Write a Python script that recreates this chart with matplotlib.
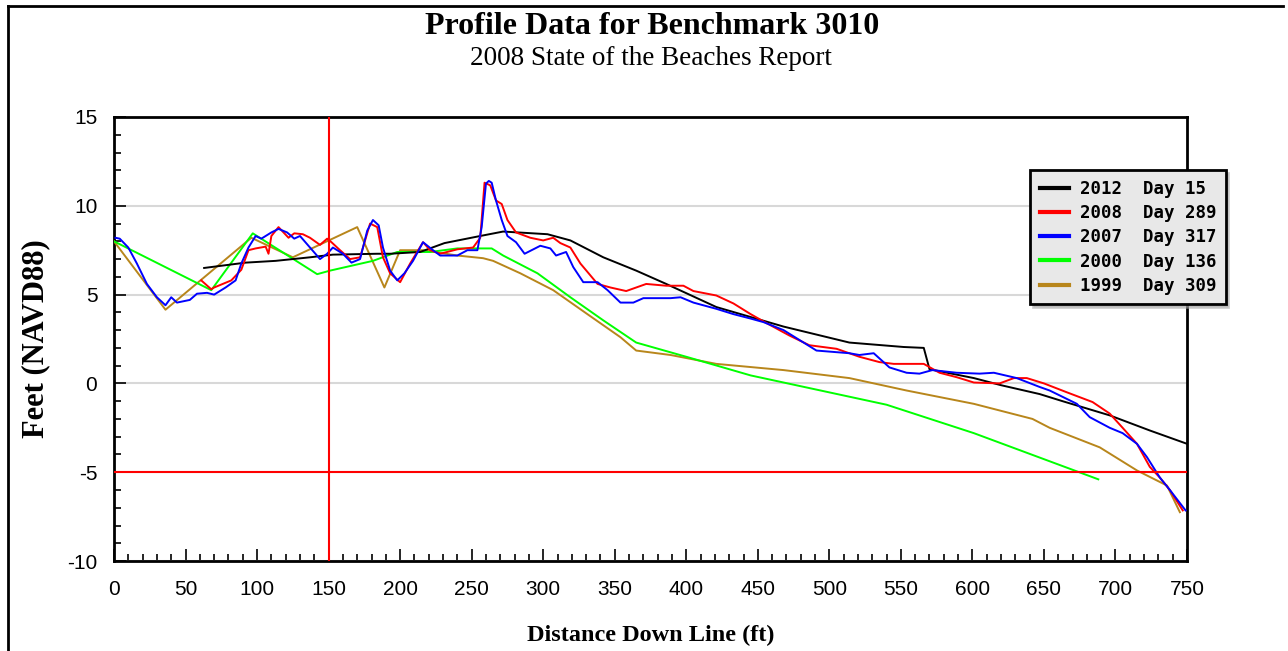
import matplotlib
matplotlib.use("Agg")
import matplotlib.pyplot as plt
from matplotlib.ticker import MultipleLocator
from matplotlib.lines import Line2D

plt.rcParams['axes.unicode_minus'] = False

# profile data (distance ft, elevation ft NAVD88)
x_2012 = [63, 92, 113, 137, 153, 184, 193, 214, 231, 256, 272, 303, 319, 342, 365, 386, 421, 468,
          514, 552, 566, 570, 601, 620, 647, 663, 696, 724, 750]
y_2012 = [6.5, 6.8, 6.9, 7.1, 7.25, 7.3, 7.3, 7.4, 7.9, 8.3, 8.55, 8.4, 8.05, 7.1, 6.35, 5.6, 4.3, 3.2,
          2.3, 2.05, 2.0, 0.8, 0.3, -0.1, -0.6, -1.0, -1.8, -2.65, -3.4]

x_2008 = [61, 68, 70, 82, 89, 94, 99, 106, 108, 110, 115, 122, 126, 132, 137, 144, 149, 152, 158, 165,
          172, 179, 184, 188, 193, 200, 207, 216, 221, 228, 240, 251, 256, 259, 263, 267, 271, 275, 281, 291,
          300, 307, 312, 319, 326, 338, 347, 358, 372, 386, 398, 405, 421, 433, 445, 456, 472, 486, 505, 521,
          535, 545, 566, 577, 589, 601, 619, 629, 638, 650, 666, 684, 696, 705, 715, 724, 731, 738, 747]
y_2008 = [5.8, 5.3, 5.4, 5.8, 6.4, 7.5, 7.6, 7.7, 7.3, 8.3, 8.8, 8.2, 8.45, 8.4, 8.2, 7.8, 8.15, 7.95, 7.5, 7.0,
          7.1, 9.0, 8.8, 7.1, 6.2, 5.7, 6.75, 7.95, 7.5, 7.3, 7.55, 7.65, 8.2, 11.3, 11.15, 10.3, 10.1, 9.2, 8.5, 8.2,
          8.05, 8.2, 7.9, 7.65, 6.75, 5.6, 5.4, 5.2, 5.6, 5.5, 5.5, 5.2, 4.95, 4.5, 3.9, 3.4, 2.7, 2.15, 1.95, 1.5,
          1.2, 1.1, 1.1, 0.6, 0.35, 0.05, 0.0, 0.3, 0.3, 0.0, -0.5, -1.05, -1.7, -2.5, -3.4, -4.7, -5.3, -6.0, -7.15]

x_2007 = [1, 4, 10, 16, 23, 30, 36, 40, 44, 53, 58, 65, 70, 78, 85, 89, 94, 99, 103, 110,
          115, 121, 126, 130, 137, 144, 149, 153, 160, 166, 172, 177, 181, 185, 188, 193, 198, 203, 209, 216,
          223, 228, 240, 247, 254, 257, 260, 262, 264, 267, 271, 275, 281, 287, 298, 305, 309, 316, 321, 328,
          338, 345, 354, 363, 370, 389, 396, 405, 421, 433, 445, 454, 468, 482, 491, 514, 521, 531, 542, 554,
          563, 572, 589, 605, 615, 631, 647, 654, 673, 682, 696, 705, 715, 722, 731, 738, 749]
y_2007 = [8.2, 8.15, 7.65, 6.75, 5.6, 4.85, 4.4, 4.85, 4.55, 4.7, 5.05, 5.1, 5.0, 5.4, 5.8, 6.75, 7.65, 8.3, 8.15, 8.5,
          8.7, 8.5, 8.15, 8.3, 7.65, 7.0, 7.3, 7.65, 7.3, 6.8, 7.0, 8.6, 9.2, 8.9, 7.65, 6.35, 5.8, 6.2, 6.9, 7.95,
          7.5, 7.2, 7.2, 7.5, 7.5, 8.8, 11.25, 11.4, 11.3, 10.3, 9.2, 8.3, 7.95, 7.3, 7.75, 7.6, 7.2, 7.4, 6.55, 5.7,
          5.7, 5.25, 4.55, 4.55, 4.8, 4.8, 4.85, 4.55, 4.2, 3.9, 3.65, 3.45, 3.0, 2.3, 1.85, 1.7, 1.6, 1.7, 0.9, 0.6,
          0.55, 0.75, 0.6, 0.55, 0.6, 0.3, -0.2, -0.4, -1.15, -1.9, -2.5, -2.8, -3.4, -4.15, -5.3, -6.0, -7.15]

x_2000 = [0, 68, 97, 142, 151, 181, 198, 221, 240, 264, 272, 296, 319, 342, 365, 400, 445, 540, 601, 688]
y_2000 = [8.0, 5.25, 8.45, 6.15, 6.35, 6.9, 7.4, 7.4, 7.6, 7.6, 7.2, 6.2, 4.85, 3.55, 2.3, 1.5, 0.45, -1.2, -2.8, -5.4]

x_1999 = [0, 36, 96, 125, 170, 189, 200, 216, 240, 258, 265, 284, 307, 330, 354, 365, 389, 421,
          468, 514, 554, 601, 642, 654, 689, 715, 736, 745]
y_1999 = [8.0, 4.15, 8.2, 7.1, 8.8, 5.4, 7.5, 7.5, 7.2, 7.05, 6.9, 6.2, 5.25, 3.95, 2.6, 1.85, 1.6, 1.1,
          0.75, 0.3, -0.4, -1.15, -2.0, -2.5, -3.6, -4.9, -5.75, -7.25]

labels = ["2012  Day 15", "2008  Day 289", "2007  Day 317", "2000  Day 136", "1999  Day 309"]
colors = ["#000000", "#ff0000", "#0000ff", "#00ff00", "#b8861b"]

fig = plt.figure(figsize=(12.88, 6.51), dpi=100)
ax = fig.add_axes([0.0885, 0.1382, 0.8331, 0.6821])

serif = "Liberation Serif"
fig.text(0.506, 0.960, "Profile Data for Benchmark 3010", ha="center", va="center",
         fontsize=23, fontweight="bold", family=serif)
fig.text(0.505, 0.910, "2008 State of the Beaches Report", ha="center", va="center",
         fontsize=19.5, family=serif)

# outer frame
fig.add_artist(Line2D([0.0065, 0.0065], [0, 0.991], transform=fig.transFigure, color="black", lw=2))
fig.add_artist(Line2D([0.0065, 0.996], [0.991, 0.991], transform=fig.transFigure, color="black", lw=2))

series = [(x_1999, y_1999, 4), (x_2000, y_2000, 3), (x_2012, y_2012, 0), (x_2008, y_2008, 1), (x_2007, y_2007, 2)]
handles = {}
for xs, ys, i in series:
    h, = ax.plot(xs, ys, color=colors[i], lw=1.4, label=labels[i], zorder=3)
    handles[i] = h

ax.axvline(150, color="#ff0000", lw=1.5, zorder=4)
ax.axhline(-5, color="#ff0000", lw=1.5, zorder=4)

ax.set_xlim(0, 750)
ax.set_ylim(-10, 15)
ax.xaxis.set_major_locator(MultipleLocator(50))
ax.xaxis.set_minor_locator(MultipleLocator(10))
ax.yaxis.set_major_locator(MultipleLocator(5))
ax.yaxis.set_minor_locator(MultipleLocator(1))
ax.yaxis.grid(True, which="major", color="#d8d8d8", lw=1.5, zorder=0)
ax.set_axisbelow(True)

ax.tick_params(which="both", direction="in", top=False, right=False, width=1.2, color="black")
ax.tick_params(which="major", length=8.5, labelsize=15)
ax.tick_params(axis="x", which="major", pad=14)
ax.tick_params(axis="y", which="major", pad=12)
ax.tick_params(which="minor", length=5)
for lab in ax.get_xticklabels() + ax.get_yticklabels():
    lab.set_family("Liberation Sans")
for s in ax.spines.values():
    s.set_linewidth(2)

ax.set_xlabel("Distance Down Line (ft)", fontsize=17.5, fontweight="bold", family=serif, labelpad=18)
ax.set_ylabel("Feet (NAVD88)", fontsize=22, fontweight="bold", family=serif, labelpad=12)

leg = ax.legend([handles[i] for i in range(5)], labels, loc="upper left", bbox_to_anchor=(0.8537, 0.88),
                borderaxespad=0,
                prop={"family": "DejaVu Sans Mono", "size": 12.5, "weight": "bold"}, frameon=True, fancybox=False,
                edgecolor="black", facecolor="#e8e8e8", framealpha=1, shadow={"color": "#a0a0a0"},
                handlelength=1.7, handletextpad=0.6, labelspacing=0.36, borderpad=0.55)
leg.get_frame().set_linewidth(2)
leg.set_zorder(10)
for line in leg.get_lines():
    line.set_linewidth(3)

fig.savefig("out.png", dpi=100)
